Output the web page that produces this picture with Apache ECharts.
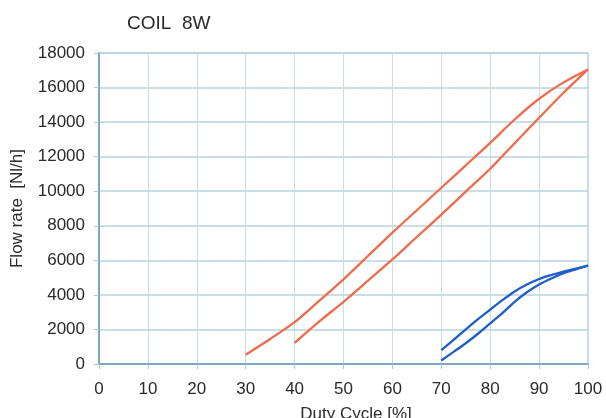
<!DOCTYPE html>
<html>
<head>
<meta charset="utf-8">
<script src="https://cdn.jsdelivr.net/npm/echarts@6/dist/echarts.min.js"></script>
<style>
html,body{margin:0;padding:0;background:#fff;}
#c{width:606px;height:418px;}
</style>
</head>
<body>
<div id="c"></div>
<script>
const titleText = "COIL  8W";
const xAxisName = "Duty Cycle [%]";
const yAxisName = "Flow rate  [Nl/h]";

// Red curves (upper and lower branch)
const redUpperX = [30, 35, 40, 45, 50, 55, 60, 65, 70, 75, 80, 85, 90, 95, 100];
const redUpperY = [540, 1450, 2420, 3650, 4900, 6250, 7600, 8900, 10200, 11500, 12800, 14150, 15350, 16300, 17050];
const redLowerX = [40, 45, 50, 55, 60, 65, 70, 75, 80, 85, 90, 95, 100];
const redLowerY = [1220, 2450, 3600, 4820, 6050, 7350, 8650, 9980, 11300, 12780, 14250, 15700, 17050];

// Blue curves (upper and lower branch)
const blueUpperX = [70, 72.5, 75, 77.5, 80, 82.5, 85, 87.5, 90, 92.5, 95, 97.5, 100];
const blueUpperY = [800, 1400, 2000, 2600, 3150, 3700, 4200, 4600, 4920, 5150, 5350, 5520, 5700];
const blueLowerX = [70, 72.5, 75, 77.5, 80, 82.5, 85, 87.5, 90, 92.5, 95, 97.5, 100];
const blueLowerY = [200, 700, 1200, 1750, 2350, 2950, 3600, 4150, 4600, 4950, 5250, 5480, 5700];

const pairs = (xs, ys) => xs.map((x, i) => [x, ys[i]]);

const RED = '#ef6b4b';
const BLUE = '#1e5ec6';
const TEXT = '#2a2a2a';
const font = '"Liberation Sans", Arial, sans-serif';

const chart = echarts.init(document.getElementById('c'), null, {renderer: 'canvas'});
const lineSeries = (data, color) => ({
  type: 'line', data, smooth: 0.3, showSymbol: false, symbol: 'none',
  lineStyle: {color, width: 2.3}, itemStyle: {color}, silent: true, animation: false
});
chart.setOption({
  animation: false,
  backgroundColor: '#fff',
  title: {
    text: titleText, left: 122, top: 9,
    textStyle: {fontFamily: font, fontSize: 19, fontWeight: 'normal', color: TEXT}
  },
  grid: {
    left: 99, right: 18, top: 53, bottom: 54,
    containLabel: false, outerBoundsMode: 'none',
    show: true, borderColor: '#9fb6c4', borderWidth: 1
  },
  xAxis: {
    type: 'value', min: 0, max: 100, interval: 10,
    name: xAxisName, nameLocation: 'middle', nameGap: 42,
    nameTextStyle: {fontFamily: font, fontSize: 17, color: TEXT, padding: [0, 0, 0, 25]},
    axisLine: {show: true, lineStyle: {color: '#7fa6bf', width: 2}},
    axisTick: {show: true, length: 5, lineStyle: {color: '#a9cadb'}},
    axisLabel: {fontFamily: font, fontSize: 17, color: TEXT, margin: 17, formatter: v => String(v)},
    splitLine: {show: true, lineStyle: {color: '#c4deea', width: 1}}
  },
  yAxis: {
    type: 'value', min: 0, max: 18000, interval: 2000,
    name: yAxisName, nameLocation: 'middle', nameGap: 73, nameRotate: 90,
    nameTextStyle: {fontFamily: font, fontSize: 17, color: TEXT},
    axisLine: {show: true, lineStyle: {color: '#7fa6bf', width: 2}},
    axisTick: {show: true, length: 5, lineStyle: {color: '#a9cadb'}},
    axisLabel: {fontFamily: font, fontSize: 17, color: TEXT, margin: 14, formatter: v => String(v)},
    splitLine: {show: true, lineStyle: {color: '#b9d3e0', width: 1.5}}
  },
  series: [
    lineSeries(pairs(redUpperX, redUpperY), RED),
    lineSeries(pairs(redLowerX, redLowerY), RED),
    lineSeries(pairs(blueUpperX, blueUpperY), BLUE),
    lineSeries(pairs(blueLowerX, blueLowerY), BLUE)
  ]
});
</script>
</body>
</html>
